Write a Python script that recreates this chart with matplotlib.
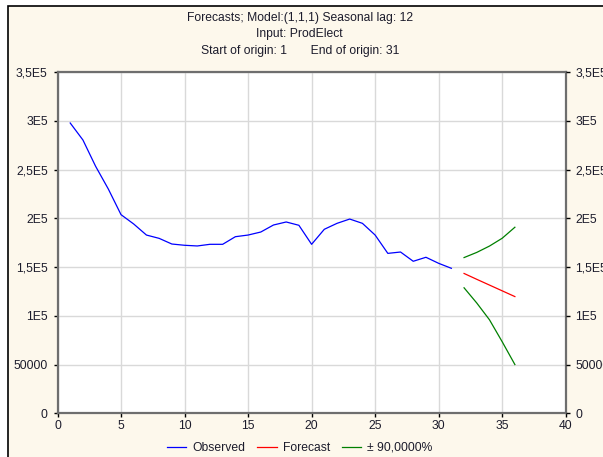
#!/usr/bin/env python3
"""Forecast plot: observed series with seasonal ARIMA forecast and 90% limits."""
import matplotlib

matplotlib.use("Agg")
import matplotlib.pyplot as plt
from matplotlib.patches import Rectangle
from matplotlib.ticker import FixedLocator, FixedFormatter

plt.rcParams["font.family"] = ["Liberation Sans", "DejaVu Sans"]

obs_x = list(range(1, 32))
obs_y = [297700, 280300, 253300, 230000, 203700, 194100, 182800, 179400, 173600, 172300,
         171600, 173300, 173300, 181100, 182800, 185900, 193100, 196200, 192800, 173300,
         188700, 194800, 199200, 194800, 182800, 164000, 165400, 155900, 160000, 153800,
         148700]

fc_x = [32, 33, 34, 35, 36]
fc_y = [143400, 137400, 131500, 125600, 119700]
upper_y = [159700, 165000, 171500, 179500, 190800]
lower_y = [128700, 113100, 95900, 73400, 50000]

y_ticks = [0, 50000, 100000, 150000, 200000, 250000, 300000, 350000]
y_labels = ["0", "50000", "1E5", "1,5E5", "2E5", "2,5E5", "3E5", "3,5E5"]
x_ticks = [0, 5, 10, 15, 20, 25, 30, 35, 40]

BG = "#fdf8ec"
SPINE = "#6e6e6e"
TXT = "#1c1c2c"
FS = 8.7

fig = plt.figure(figsize=(6.03, 4.57), dpi=100)
fig.patch.set_facecolor("white")
fig.patches.append(Rectangle((7.5 / 603, -0.1), 1.2, 1.1 - 6.5 / 457,
                             transform=fig.transFigure, facecolor=BG,
                             edgecolor="black", lw=1.2, zorder=-10))

ax = fig.add_axes([57.5 / 603, 43.7 / 457, 508.2 / 603, 341.3 / 457])
ax.set_facecolor("white")

ax.plot(obs_x, obs_y, color="#0000ff", lw=0.9, label="Observed")
ax.plot(fc_x, fc_y, color="#ff0000", lw=0.9, label="Forecast")
ax.plot(fc_x, upper_y, color="#008000", lw=0.9, label="± 90,0000%")
ax.plot(fc_x, lower_y, color="#008000", lw=0.9)

ax.set_xlim(0, 40)
ax.set_ylim(0, 350000)
ax.set_xticks(x_ticks)
ax.set_xticklabels([str(t) for t in x_ticks])
ax.yaxis.set_major_locator(FixedLocator(y_ticks))
ax.yaxis.set_major_formatter(FixedFormatter(y_labels))
ax.grid(True, color="#d9d9d9", lw=1.0)
ax.set_axisbelow(True)

for s in ax.spines.values():
    s.set_color(SPINE)
    s.set_linewidth(1.6)

ax.tick_params(axis="both", direction="out", length=3, width=1, color="black",
               labelsize=FS, labelcolor=TXT, pad=2)
ax.tick_params(axis="y", pad=4)

ax2 = ax.twinx()
ax2.set_ylim(0, 350000)
ax2.yaxis.set_major_locator(FixedLocator(y_ticks))
ax2.yaxis.set_major_formatter(FixedFormatter(y_labels))
ax2.tick_params(axis="y", direction="out", length=3, width=1, color="black",
                labelsize=FS, labelcolor=TXT, pad=4)
for s in ax2.spines.values():
    s.set_visible(False)

fig.text(0.497, 1 - 18 / 457, "Forecasts; Model:(1,1,1) Seasonal lag: 12",
         ha="center", va="center", fontsize=FS, color=TXT)
fig.text(0.497, 1 - 34 / 457, "Input: ProdElect",
         ha="center", va="center", fontsize=FS, color=TXT)
fig.text(0.497, 1 - 51 / 457, "Start of origin: 1       End of origin: 31",
         ha="center", va="center", fontsize=FS, color=TXT)

fig.legend(loc="center", bbox_to_anchor=(0.497, 1 - 448 / 457), ncol=3,
           frameon=False, fontsize=FS, handlelength=1.6, handletextpad=0.5,
           columnspacing=1.0, labelcolor=TXT)

fig.savefig("out.png", dpi=100, facecolor=fig.get_facecolor())
